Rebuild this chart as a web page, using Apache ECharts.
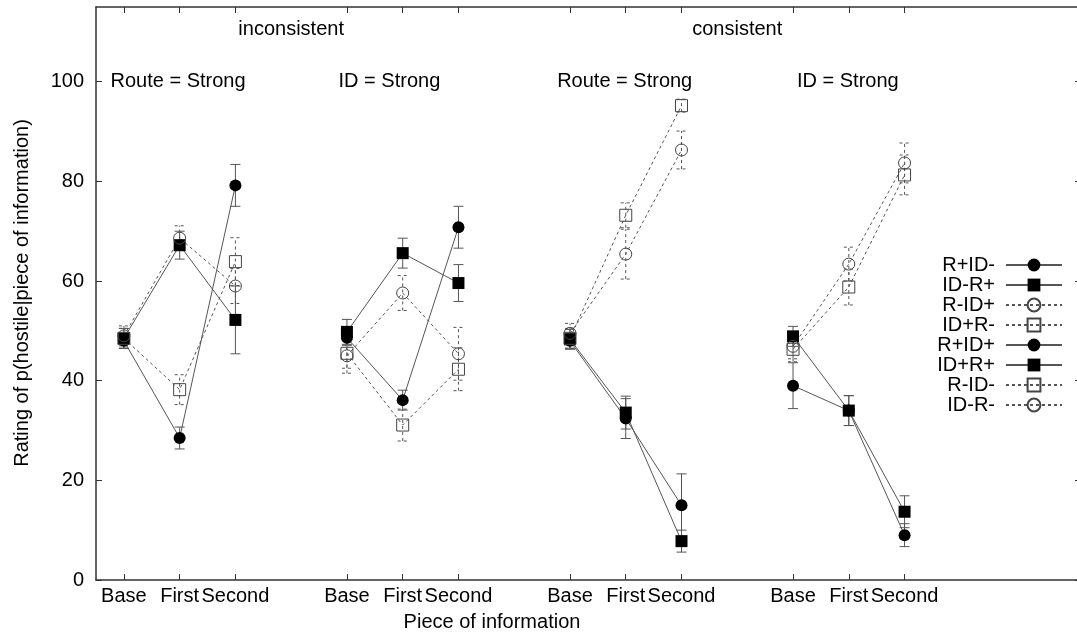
<!DOCTYPE html>
<html><head><meta charset="utf-8">
<script src="https://cdn.jsdelivr.net/npm/echarts@6/dist/echarts.min.js"></script>
<style>html,body{margin:0;padding:0;background:#fff;overflow:hidden}#c{width:1077px;height:640px}</style>
</head><body><div id="c"></div>
<script>
// x positions of the category ticks (four panels of Base / First / Second)
const positions = [0, 1, 2, 4, 5, 6, 8, 9, 10, 12, 13, 14];
const tickLabels = ['Base','First','Second','Base','First','Second','Base','First','Second','Base','First','Second'];
const yTicks = [0, 20, 40, 60, 80, 100];

const seriesNames = ['R+ID-','ID-R+','R-ID+','ID+R-','R+ID+','ID+R+','R-ID-','ID-R-'];

// mean ratings
const vR_pID_m = [48.0, 28.5, 79.2, 48.6, 36.1, 70.8, null, null, null, null, null, null];
const vID_mR_p = [48.5, 67.2, 52.2, 49.8, 65.6, 59.6, null, null, null, null, null, null];
const vR_mID_p = [49.0, 68.6, 59.0, 45.0, 57.6, 45.4, null, null, null, null, null, null];
const vID_pR_m = [48.5, 38.2, 63.9, 45.5, 31.1, 42.3, null, null, null, null, null, null];
const vR_pID_p = [null, null, null, null, null, null, 48.0, 32.4, 15.0, 39.0, 34.0, 9.0];
const vID_pR_p = [null, null, null, null, null, null, 48.3, 33.6, 7.8, 48.9, 34.0, 13.7];
const vR_mID_m = [null, null, null, null, null, null, 48.5, 73.2, 95.2, 46.3, 58.8, 81.3];
const vID_mR_m = [null, null, null, null, null, null, 49.5, 65.4, 86.3, 46.9, 63.4, 83.7];

// error bar half-widths
const eR_pID_m = [1.5, 2.2, 4.2, 1.5, 2.0, 4.2, null, null, null, null, null, null];
const eID_mR_p = [2.0, 2.8, 6.8, 2.5, 3.0, 3.7, null, null, null, null, null, null];
const eR_mID_p = [2.0, 2.5, 3.5, 3.5, 3.5, 5.3, null, null, null, null, null, null];
const eID_pR_m = [2.0, 3.0, 4.8, 3.0, 3.2, 4.3, null, null, null, null, null, null];
const eR_pID_p = [null, null, null, null, null, null, 1.5, 4.0, 6.3, 4.6, 3.0, 2.3];
const eID_pR_p = [null, null, null, null, null, null, 2.0, 3.3, 2.2, 2.0, 3.0, 3.2];
const eR_mID_m = [null, null, null, null, null, null, 2.0, 2.5, 1.3, 2.5, 3.6, 4.0];
const eID_mR_m = [null, null, null, null, null, null, 2.0, 5.0, 3.8, 2.5, 3.4, 4.0];

const seriesValues = [vR_pID_m, vID_mR_p, vR_mID_p, vID_pR_m, vR_pID_p, vID_pR_p, vR_mID_m, vID_mR_m];
const seriesErrors = [eR_pID_m, eID_mR_p, eR_mID_p, eID_pR_m, eR_pID_p, eID_pR_p, eR_mID_m, eID_mR_m];
const seriesSymbols = ['circle','rect','circle','rect','circle','rect','rect','circle'];
const seriesFilled = [true, true, false, false, true, true, false, false];

// annotation texts (data coordinates)
const annoTexts = ['inconsistent','consistent','Route = Strong','ID = Strong','Route = Strong','ID = Strong'];
const annoX = [3.0, 11.0, -0.24, 3.85, 7.77, 12.07];
const annoY = [110.4, 110.4, 100, 100, 100, 100];
const annoAlign = ['center','center','left','left','left','left'];

const FONT = '"Liberation Sans", Arial, Helvetica, sans-serif';
const LINE = '#555';
const AXIS = '#333';

function buildLine(vals) {
  const d = [];
  positions.forEach((x, i) => {
    if (i > 0 && x - positions[i - 1] > 1) d.push([x - 1, '-']);
    d.push([x, vals[i] == null ? '-' : vals[i]]);
  });
  return d;
}
function buildErr(vals, errs) {
  const d = [];
  positions.forEach((x, i) => {
    if (vals[i] != null) d.push([x, vals[i] - errs[i], vals[i] + errs[i]]);
  });
  return d;
}
function errRenderer(dashed) {
  return function (params, api) {
    const x = api.value(0), lo = api.value(1), hi = api.value(2);
    const p1 = api.coord([x, lo]), p2 = api.coord([x, hi]);
    const w = 5;
    const style = { stroke: LINE, lineWidth: 1, lineDash: dashed ? [3, 3] : null, fill: null };
    return { type: 'group', children: [
      { type: 'line', shape: { x1: p1[0], y1: p1[1], x2: p2[0], y2: p2[1] }, style: style },
      { type: 'line', shape: { x1: p1[0] - w, y1: p1[1], x2: p1[0] + w, y2: p1[1] }, style: style },
      { type: 'line', shape: { x1: p2[0] - w, y1: p2[1], x2: p2[0] + w, y2: p2[1] }, style: style }
    ]};
  };
}

const series = [];
seriesNames.forEach((name, k) => {
  const filled = seriesFilled[k];
  series.push({
    name: name + ' err', type: 'custom', z: 1, silent: true,
    renderItem: errRenderer(!filled),
    encode: { x: 0, y: [1, 2] },
    data: buildErr(seriesValues[k], seriesErrors[k])
  });
});
seriesNames.forEach((name, k) => {
  const filled = seriesFilled[k];
  series.push({
    name: name, type: 'line', z: 2,
    data: buildLine(seriesValues[k]),
    connectNulls: false,
    symbol: seriesSymbols[k],
    symbolSize: 12,
    showAllSymbol: true,
    animation: false,
    lineStyle: { color: LINE, width: 1, type: filled ? 'solid' : [3, 3] },
    itemStyle: filled ? { color: '#000', borderWidth: 0 } : { color: 'rgba(255,255,255,0)', borderColor: '#444', borderWidth: 1 },
    emphasis: { disabled: true }
  });
});

const chart = echarts.init(document.getElementById('c'));
const option = {
  animation: false,
  backgroundColor: '#fff',
  textStyle: { fontFamily: FONT },
  grid: { left: 96, top: 7, bottom: 60, width: 987, outerBoundsMode: 'none', containLabel: false },
  xAxis: [{
    type: 'value', min: -0.5, max: 17.2, position: 'bottom',
    axisLine: { onZero: false, lineStyle: { color: AXIS, width: 1.5 } },
    splitLine: { show: false },
    axisTick: { inside: true, length: 6, customValues: positions, lineStyle: { color: AXIS } },
    axisLabel: { customValues: positions, formatter: v => tickLabels[positions.indexOf(v)],
      fontSize: 20, color: '#000', margin: 6, fontFamily: FONT }
  }, {
    type: 'value', min: -0.5, max: 17.2, position: 'top',
    axisLine: { onZero: false, lineStyle: { color: AXIS, width: 1.5 } },
    splitLine: { show: false },
    axisTick: { inside: true, length: 6, customValues: positions, lineStyle: { color: AXIS } },
    axisLabel: { show: false }
  }],
  yAxis: [{
    type: 'value', min: 0, max: 115, position: 'left',
    axisLine: { show: true, onZero: false, lineStyle: { color: AXIS, width: 1.5 } },
    splitLine: { show: false },
    axisTick: { show: true, inside: true, length: 6, customValues: yTicks, lineStyle: { color: AXIS } },
    axisLabel: { customValues: yTicks, fontSize: 20, color: '#000', margin: 12, fontFamily: FONT }
  }, {
    type: 'value', min: 0, max: 115, position: 'right',
    axisLine: { show: false, onZero: false },
    splitLine: { show: false },
    axisTick: { show: true, inside: true, length: 8, customValues: yTicks, lineStyle: { color: AXIS } },
    axisLabel: { show: false }
  }],
  legend: {
    data: seriesNames, orient: 'vertical', right: 9, top: 250, align: 'right',
    itemWidth: 56, itemHeight: 16, itemGap: 0,
    selectedMode: false,
    textStyle: { fontSize: 20, color: '#000', width: 66, align: 'right', lineHeight: 18, fontFamily: FONT, padding: [0, 6, 0, 0] }
  },
  series: series
};
chart.setOption(option);

const gfx = annoTexts.map((t, i) => {
  const p = chart.convertToPixel({ gridIndex: 0 }, [annoX[i], annoY[i]]);
  return { type: 'text', x: p[0], y: p[1], style: { text: t, font: '20px ' + FONT, fill: '#000', textAlign: annoAlign[i], textVerticalAlign: 'middle' } };
});
gfx.push({ type: 'text', x: 492, y: 622, style: { text: 'Piece of information', font: '20px ' + FONT, fill: '#000', textAlign: 'center', textVerticalAlign: 'middle' } });
gfx.push({ type: 'text', x: 22, y: 293, rotation: Math.PI / 2, style: { text: 'Rating of p(hostile|piece of information)', font: '20px ' + FONT, fill: '#000', textAlign: 'center', textVerticalAlign: 'middle' } });
chart.setOption({ graphic: gfx });
</script>
</body></html>
